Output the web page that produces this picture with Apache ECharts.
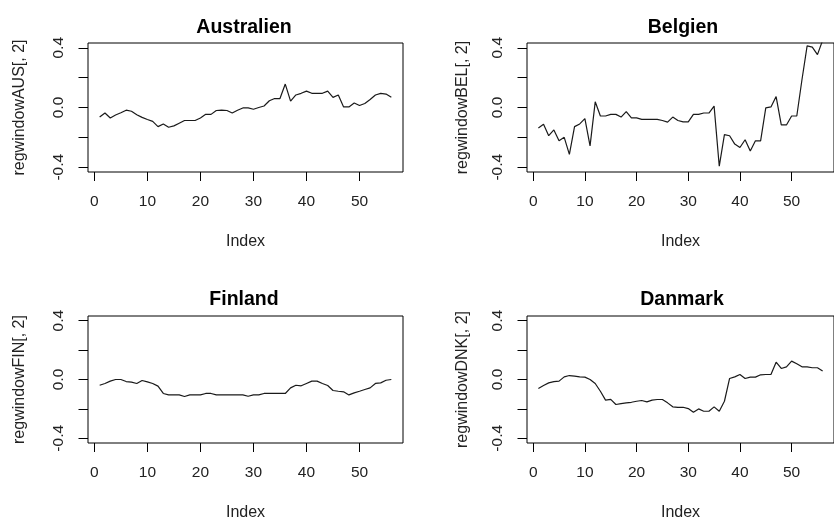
<!DOCTYPE html>
<html>
<head>
<meta charset="utf-8">
<script src="https://cdn.jsdelivr.net/npm/echarts@6/dist/echarts.min.js"></script>
<style>
html,body{margin:0;padding:0;background:#fff;}
#chart{width:834px;height:523px;}
</style>
</head>
<body>
<div id="chart"></div>
<script>
// Panel titles and y-axis names
const titles = ["Australien", "Belgien", "Finland", "Danmark"];
const yNames = ["regwindowAUS[, 2]", "regwindowBEL[, 2]", "regwindowFIN[, 2]", "regwindowDNK[, 2]"];
const xName = "Index";
// Tick values
const xTicks = [0, 10, 20, 30, 40, 50];
const yTicks = [-0.4, -0.2, 0, 0.2, 0.4];
const yLabels = [-0.4, 0, 0.4];

// Series values (index 1..56)
const aus = [-0.064,-0.037,-0.07,-0.05,-0.035,-0.018,-0.025,-0.048,-0.066,-0.08,
  -0.093,-0.128,-0.11,-0.132,-0.123,-0.105,-0.087,-0.087,-0.087,-0.07,
  -0.046,-0.046,-0.02,-0.018,-0.02,-0.037,-0.018,-0.003,-0.003,-0.012,
  0.0,0.01,0.045,0.06,0.06,0.157,0.043,0.084,0.095,0.11,
  0.095,0.095,0.095,0.11,0.068,0.084,0.004,0.004,0.03,0.013,
  0.027,0.054,0.084,0.095,0.09,0.068];
const bel = [-0.137,-0.112,-0.189,-0.15,-0.223,-0.2,-0.314,-0.128,-0.11,-0.075,
  -0.257,0.038,-0.057,-0.057,-0.046,-0.046,-0.064,-0.028,-0.07,-0.07,
  -0.08,-0.08,-0.08,-0.08,-0.087,-0.098,-0.064,-0.087,-0.096,-0.096,
  -0.046,-0.046,-0.037,-0.037,0.009,-0.393,-0.182,-0.189,-0.245,-0.268,
  -0.216,-0.291,-0.223,-0.223,-0.003,0.004,0.073,-0.117,-0.117,-0.057,
  -0.057,0.186,0.413,0.404,0.354,0.45];
const fin = [-0.039,-0.027,-0.011,0.0,0.0,-0.014,-0.018,-0.027,-0.007,-0.016,
  -0.027,-0.045,-0.095,-0.105,-0.105,-0.105,-0.116,-0.105,-0.105,-0.105,
  -0.095,-0.095,-0.105,-0.105,-0.105,-0.105,-0.105,-0.105,-0.114,-0.105,
  -0.105,-0.095,-0.095,-0.095,-0.095,-0.095,-0.057,-0.039,-0.043,-0.027,
  -0.011,-0.011,-0.027,-0.041,-0.075,-0.08,-0.084,-0.105,-0.091,-0.08,
  -0.068,-0.057,-0.027,-0.023,-0.005,0.0];
const dnk = [-0.061,-0.041,-0.023,-0.014,-0.011,0.018,0.027,0.023,0.018,0.016,
  0.0,-0.027,-0.08,-0.14,-0.135,-0.17,-0.164,-0.159,-0.155,-0.148,
  -0.143,-0.152,-0.14,-0.136,-0.136,-0.159,-0.186,-0.189,-0.189,-0.198,
  -0.223,-0.2,-0.216,-0.216,-0.186,-0.216,-0.148,0.007,0.018,0.034,
  0.007,0.016,0.016,0.032,0.034,0.034,0.118,0.075,0.086,0.125,
  0.107,0.086,0.086,0.08,0.08,0.057];

const seriesData = [aus, bel, fin, dnk];

const FONT = "'Liberation Sans', Arial, sans-serif";
const grids = [
  {left: 88, top: 43, width: 315, height: 129},
  {left: 527, top: 43, width: 315, height: 129},
  {left: 88, top: 316, width: 315, height: 127},
  {left: 527, top: 316, width: 315, height: 127}
];
const titlePos = [[239, 13], [678, 13], [239, 285], [677, 285]];
const yNameGap = [60, 56, 60, 56];

const option = {
  backgroundColor: '#fff',
  animation: false,
  title: titles.map((t, i) => ({
    text: t, left: titlePos[i][0], top: titlePos[i][1], textAlign: 'center',
    textStyle: {fontFamily: FONT, fontSize: 19.5, fontWeight: 'bold', color: '#000'}
  })),
  grid: grids.map(g => Object.assign({show: true, borderColor: '#000', borderWidth: 1, backgroundColor: 'transparent', containLabel: false}, g)),
  xAxis: grids.map((g, i) => ({
    type: 'value', gridIndex: i, min: -1.2, max: 58.2, position: 'bottom',
    name: xName, nameLocation: 'middle', nameGap: 62,
    nameTextStyle: {fontFamily: FONT, fontSize: 16, color: '#222'},
    axisLine: {show: false, onZero: false},
    splitLine: {show: false},
    axisTick: {show: true, inside: false, length: 9, customValues: xTicks, lineStyle: {color: '#000'}},
    axisLabel: {customValues: xTicks, margin: 22, fontFamily: FONT, fontSize: 15.5, color: '#222'}
  })),
  yAxis: grids.map((g, i) => ({
    type: 'value', gridIndex: i, min: -0.432, max: 0.432, position: 'left',
    name: yNames[i], nameLocation: 'middle', nameGap: yNameGap[i], nameRotate: 90,
    nameTextStyle: {fontFamily: FONT, fontSize: 16, color: '#222'},
    axisLine: {show: false, onZero: false},
    splitLine: {show: false},
    axisTick: {show: true, inside: false, length: 9.5, customValues: yTicks, lineStyle: {color: '#000'}},
    axisLabel: {customValues: yLabels, rotate: 90, margin: 21, fontFamily: FONT, fontSize: 15.5, color: '#222',
      formatter: v => (Math.abs(v) < 1e-9 ? 0 : v).toFixed(1)}
  })),
  series: seriesData.map((d, i) => ({
    type: 'line', xAxisIndex: i, yAxisIndex: i,
    data: d.map((v, k) => [k + 1, v]),
    showSymbol: false, symbol: 'none', clip: true,
    lineStyle: {color: '#1a1a1a', width: 1.2},
    silent: true
  }))
};

const chart = echarts.init(document.getElementById('chart'), null, {renderer: 'canvas'});
chart.setOption(option);
</script>
</body>
</html>
